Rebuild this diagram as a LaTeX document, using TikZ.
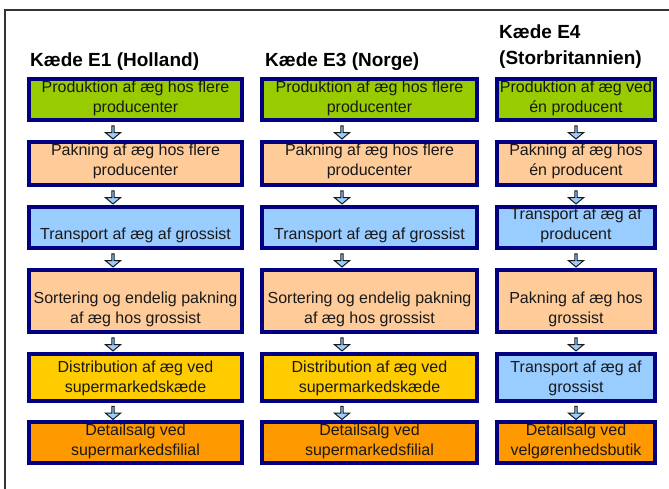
\documentclass[tikz,border=0pt]{standalone}
\usepackage{fontspec}
\setmainfont{Liberation Sans}
\usepackage{tikz}
\usetikzlibrary{calc,arrows.meta,positioning,shapes.arrows}
\definecolor{navy}{RGB}{0,0,128}
\definecolor{eggreen}{RGB}{153,204,0}
\definecolor{peach}{RGB}{255,204,153}
\definecolor{skyblue}{RGB}{153,204,255}
\definecolor{gold}{RGB}{255,204,0}
\definecolor{amber}{RGB}{255,153,0}

\begin{document}
\begin{tikzpicture}[x=1pt, y=-1pt,
    stage/.style={draw=navy, line width=4pt, inner sep=0pt, anchor=north west},
    lbl/.style={font=\fontsize{16}{20}\selectfont, align=center, inner sep=0pt, text=black!90},
    head/.style={font=\fontsize{19}{26}\selectfont\bfseries, anchor=base west, align=left, inner sep=0pt},
    flow/.style={single arrow, shape border rotate=270, fill=skyblue, draw=black!90,
      line width=1pt, minimum height=13pt, minimum width=15pt, inner sep=0pt,
      single arrow head extend=2.8pt, single arrow tip angle=100}]
    \useasboundingbox (0,0) rectangle (669,489);
    \draw[black!80, line width=1.5pt] (5,489) -- (5,10) -- (669,10);

    % chain headers
    \node[head] (ha) at (30,67) {Kæde E1 (Holland)};
    \node[head] (hb) at (265,67) {Kæde E3 (Norge)};
    \node[head] (hc) at (499,65) {Kæde E4\\(Storbritannien)};

    % boxes: row / top / height / fill E1,E3 / fill E4
    \foreach \r/\y/\h/\fab/\fc in {1/77/41/eggreen/eggreen, 2/140/43/peach/peach,
        3/205/41/skyblue/skyblue, 4/268/62/peach/peach, 5/352/47/gold/skyblue,
        6/420/41/amber/amber} {
      \node[stage, fill=\fab, minimum width=213, minimum height=\h] (a\r) at (27,\y) {};
      \node[stage, fill=\fab, minimum width=215, minimum height=\h] (b\r) at (260,\y) {};
      \node[stage, fill=\fc, minimum width=158, minimum height=\h] (c\r) at (495,\y) {};
    }

    % E1 (Holland)
    \node[lbl] (a1t) at (a1 |- 0,98) {Produktion af æg hos flere\\producenter};
    \node[lbl] (a2t) at (a2 |- 0,161) {Pakning af æg hos flere\\producenter};
    \node[lbl] (a3t) at (a3 |- 0,235) {Transport af æg af grossist};
    \node[lbl] (a4t) at (a4 |- 0,309.5) {Sortering og endelig pakning\\af æg hos grossist};
    \node[lbl] (a5t) at (a5 |- 0,378) {Distribution af æg ved\\supermarkedskæde};
    \node[lbl] (a6t) at (a6 |- 0,441.5) {Detailsalg ved\\supermarkedsfilial};

    % E3 (Norge)
    \node[lbl] (b1t) at (b1 |- 0,98) {Produktion af æg hos flere\\producenter};
    \node[lbl] (b2t) at (b2 |- 0,161) {Pakning af æg hos flere\\producenter};
    \node[lbl] (b3t) at (b3 |- 0,235) {Transport af æg af grossist};
    \node[lbl] (b4t) at (b4 |- 0,309.5) {Sortering og endelig pakning\\af æg hos grossist};
    \node[lbl] (b5t) at (b5 |- 0,378) {Distribution af æg ved\\supermarkedskæde};
    \node[lbl] (b6t) at (b6 |- 0,441.5) {Detailsalg ved\\supermarkedsfilial};

    % E4 (Storbritannien)
    \node[lbl] (c1t) at (c1 |- 0,98) {Produktion af æg ved\\én producent};
    \node[lbl] (c2t) at (c2 |- 0,161) {Pakning af æg hos\\én producent};
    \node[lbl] (c3t) at (c3 |- 0,225) {Transport af æg af\\producent};
    \node[lbl] (c4t) at (c4 |- 0,309.5) {Pakning af æg hos\\grossist};
    \node[lbl] (c5t) at (c5 |- 0,378) {Transport af æg af\\grossist};
    \node[lbl] (c6t) at (c6 |- 0,441.5) {Detailsalg ved\\velgørenhedsbutik};

    % down arrows between the steps
    \foreach \r/\n in {1/2,2/3,3/4,4/5,5/6} {
      \path (a\r.south) -- (a\n.north) node[flow, midway, xshift=-22.5pt, yshift=-1pt] (fa\r) {};
      \path (b\r.south) -- (b\n.north) node[flow, midway, xshift=-27.5pt, yshift=-1pt] (fb\r) {};
      \path (c\r.south) -- (c\n.north) node[flow, midway, yshift=-1pt] (fc\r) {};
    }
\end{tikzpicture}
\end{document}
